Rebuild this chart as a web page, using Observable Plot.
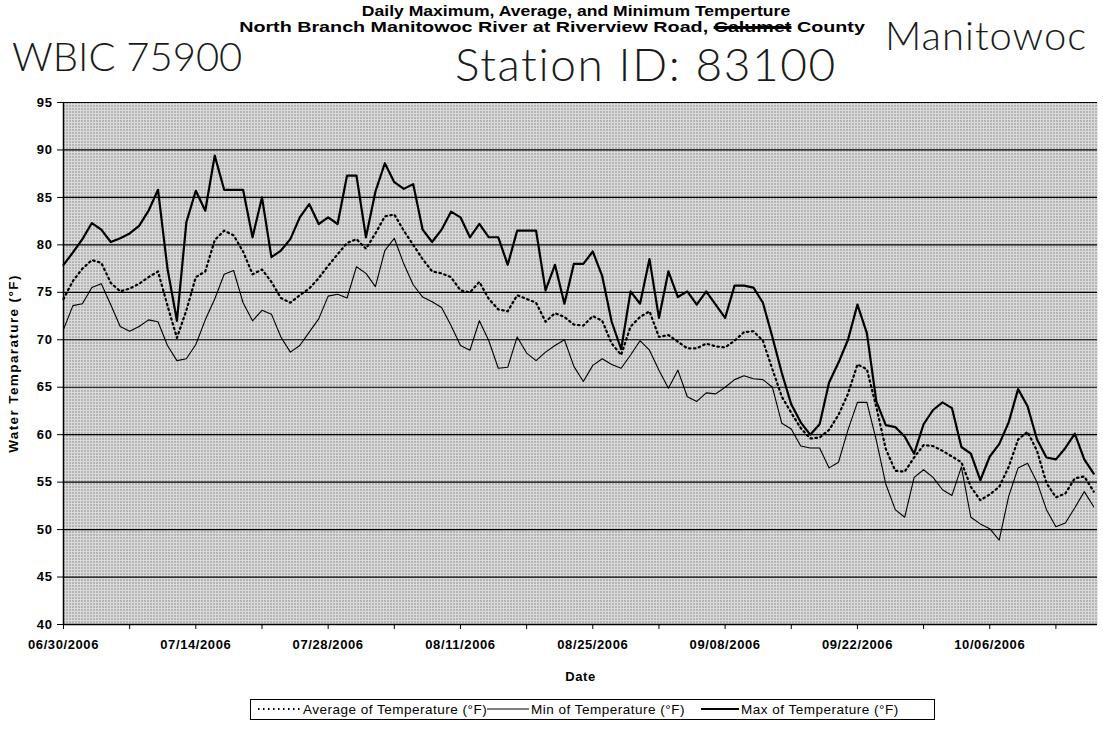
<!DOCTYPE html>
<html><head><meta charset="utf-8">
<script src="https://cdn.jsdelivr.net/npm/d3@7"></script>
<script src="https://cdn.jsdelivr.net/npm/@observablehq/plot@0.6"></script>
<style>
body{margin:0;background:#fff;width:1103px;height:756px;position:relative;overflow:hidden;font-family:"Liberation Sans",Arial,sans-serif;}
#chart{position:absolute;left:0;top:0;}
.t{position:absolute;white-space:nowrap;line-height:1;}
.title{font-weight:bold;font-size:14.5px;color:#000;transform-origin:50% 50%;}
.hand{font-family:Lato,"Open Sans",sans-serif;font-weight:300;color:#1a1a1a;}
#legend{position:absolute;left:250px;top:699px;width:685px;height:21px;border:1px solid #000;box-sizing:border-box;font-size:13.5px;letter-spacing:0.5px;}
#legend .it{position:absolute;top:3px;line-height:1;white-space:nowrap;}
#legend svg{position:absolute;top:4px;}
</style></head><body>
<div id="chart"></div>
<div class="t title" style="left:576px;top:4px;transform:translateX(-50%) scaleX(1.21);">Daily Maximum, Average, and Minimum Temperture</div>
<div class="t title" style="left:552px;top:20px;transform:translateX(-50%) scaleX(1.36);">North Branch Manitowoc River at Riverview Road, <s style="text-decoration-thickness:3px">Calumet</s> County</div>
<div class="t hand" style="left:885px;top:15px;font-size:40px;letter-spacing:1px;">Manitowoc</div>
<div class="t hand" style="left:12px;top:36px;font-size:40px;letter-spacing:0px;">WBIC 75900</div>
<div class="t hand" style="left:455px;top:41px;font-size:46px;letter-spacing:1.6px;">Station ID: 83100</div>
<div id="legend">
<svg width="46" height="10" style="left:6px"><line x1="1" y1="5" x2="45" y2="5" stroke="#000" stroke-width="2" stroke-dasharray="1.5,3.5"/></svg><span class="it" style="left:52px">Average of Temperature (°F)</span>
<svg width="44" height="10" style="left:235px"><line x1="1" y1="5" x2="43" y2="5" stroke="#000" stroke-width="1"/></svg><span class="it" style="left:280px">Min of Temperature (°F)</span>
<svg width="40" height="10" style="left:449px"><line x1="1" y1="5" x2="39" y2="5" stroke="#000" stroke-width="2.2"/></svg><span class="it" style="left:490px">Max of Temperature (°F)</span>
</div>
<script>
const startDate = "2006-06-30";
const maxTemp = [
 77.9, 79.2, 80.6, 82.3, 81.6, 80.3, 80.7, 81.2, 82.0, 83.6,
 85.8, 77.5, 72.0, 82.4, 85.7, 83.6, 89.4, 85.8, 85.8, 85.8,
 80.8, 85.0, 78.7, 79.4, 80.6, 82.9, 84.3, 82.2, 82.9, 82.2,
 87.3, 87.3, 80.8, 85.6, 88.6, 86.6, 85.9, 86.4, 81.6, 80.3,
 81.6, 83.5, 82.9, 80.8, 82.2, 80.8, 80.8, 77.9, 81.5, 81.5,
 81.5, 75.2, 77.9, 73.8, 78.0, 78.0, 79.3, 76.7, 71.9, 69.0,
 75.1, 73.8, 78.5, 72.3, 77.2, 74.5, 75.1, 73.7, 75.1, 73.7,
 72.3, 75.7, 75.7, 75.5, 73.9, 70.3, 66.5, 63.2, 61.3, 60.0,
 61.1, 65.5, 67.6, 70.0, 73.7, 70.7, 63.5, 61.0, 60.8, 59.8,
 58.0, 61.1, 62.6, 63.4, 62.8, 58.7, 58.0, 55.2, 57.7, 59.0,
 61.3, 64.8, 63.0, 59.5, 57.6, 57.4, 58.6, 60.1, 57.4, 55.9];
const avgTemp = [
 74.3, 76.2, 77.5, 78.4, 78.1, 76.0, 75.1, 75.4, 75.9, 76.6,
 77.2, 73.6, 70.2, 73.1, 76.6, 77.2, 80.5, 81.5, 81.0, 79.3,
 76.9, 77.4, 76.1, 74.4, 73.9, 74.7, 75.4, 76.5, 77.8, 79.0,
 80.2, 80.6, 79.6, 81.2, 83.0, 83.2, 81.5, 80.0, 78.5, 77.2,
 77.0, 76.6, 75.2, 75.0, 76.1, 74.3, 73.2, 73.0, 74.7, 74.3,
 73.9, 71.9, 72.8, 72.4, 71.6, 71.5, 72.5, 72.0, 69.6, 68.4,
 71.4, 72.4, 73.0, 70.3, 70.5, 69.8, 69.1, 69.1, 69.6, 69.3,
 69.2, 69.9, 70.8, 70.9, 69.9, 66.9, 64.0, 62.3, 60.7, 59.6,
 59.7, 60.5, 62.1, 64.3, 67.4, 66.9, 62.9, 58.5, 56.2, 56.1,
 57.6, 58.9, 58.8, 58.3, 57.7, 57.1, 54.5, 53.1, 53.7, 54.5,
 56.6, 59.5, 60.3, 58.3, 54.9, 53.4, 53.8, 55.4, 55.6, 54.0];
const minTemp = [
 71.1, 73.6, 73.8, 75.5, 75.9, 73.7, 71.4, 70.9, 71.4, 72.1,
 71.9, 69.4, 67.8, 68.0, 69.5, 72.1, 74.3, 76.9, 77.3, 73.9,
 72.0, 73.1, 72.7, 70.3, 68.7, 69.4, 70.8, 72.2, 74.6, 74.8,
 74.4, 77.7, 77.0, 75.6, 79.4, 80.7, 78.0, 75.8, 74.5, 74.0,
 73.4, 71.5, 69.4, 68.9, 72.0, 69.9, 67.0, 67.1, 70.3, 68.6,
 67.8, 68.7, 69.4, 70.0, 67.2, 65.6, 67.3, 68.0, 67.4, 67.0,
 68.4, 69.9, 68.9, 66.8, 64.9, 66.8, 64.0, 63.5, 64.4, 64.3,
 65.0, 65.8, 66.2, 65.9, 65.8, 65.0, 61.2, 60.6, 58.8, 58.6,
 58.6, 56.5, 57.1, 60.5, 63.4, 63.4, 59.4, 54.8, 52.1, 51.3,
 55.5, 56.3, 55.5, 54.2, 53.6, 56.6, 51.3, 50.6, 50.1, 48.9,
 53.5, 56.5, 57.0, 55.0, 52.1, 50.3, 50.7, 52.3, 54.0, 52.4];
const tickLabels = ["06/30/2006","07/14/2006","07/28/2006","08/11/2006","08/25/2006","09/08/2006","09/22/2006","10/06/2006"];
const minorTickLabels = ["07/07/2006","07/21/2006","08/04/2006","08/18/2006","09/01/2006","09/15/2006","09/29/2006","10/13/2006"];
const yTicks = [40,45,50,55,60,65,70,75,80,85,90,95];

const parseTick = d3.utcParse("%m/%d/%Y");
const t0 = d3.utcParse("%Y-%m-%d")(startDate);
const rows = maxTemp.map((v, i) => ({date: d3.utcDay.offset(t0, i), max: v, avg: avgTemp[i], min: minTemp[i]}));
const xDomain = [t0, new Date(t0.getTime() + 109.4 * 864e5)];
const majorTicks = tickLabels.map(parseTick);
const minorTicks = minorTickLabels.map(parseTick);

const chart = Plot.plot({
  width: 1103, height: 756,
  marginLeft: 63, marginRight: 6, marginTop: 102, marginBottom: 132,
  style: {fontFamily: "'Liberation Sans', Arial, sans-serif", fontSize: "13px", fontWeight: "bold", background: "transparent", color: "#000", letterSpacing: "0.6px"},
  x: {type: "utc", domain: xDomain},
  y: {domain: [40, 95]},
  marks: [
    Plot.frame({fill: "url(#halftone)", stroke: null}),
    Plot.gridY(yTicks, {stroke: "#000", strokeOpacity: 1, strokeWidth: 1.2}),
    Plot.ruleY([40], {stroke: "#000", strokeWidth: 1.5}),
    Plot.ruleX([xDomain[0]], {stroke: "#000", strokeWidth: 1.5}),
    Plot.lineY(rows, {x: "date", y: "min", stroke: "#000", strokeWidth: 1.1}),
    Plot.lineY(rows, {x: "date", y: "avg", stroke: "#000", strokeWidth: 2.2, strokeDasharray: "1.5,3.5"}),
    Plot.lineY(rows, {x: "date", y: "max", stroke: "#000", strokeWidth: 2.2}),
    Plot.axisY(yTicks, {tickSize: 6, tickPadding: 5, label: "Water Temparature (°F)", labelAnchor: "center", labelArrow: "none", labelOffset: 55}),
    Plot.axisX(majorTicks, {tickSize: 5, tickPadding: 10, tickFormat: d3.utcFormat("%m/%d/%Y"), label: "Date", labelAnchor: "center", labelArrow: "none", labelOffset: 56}),
    Plot.axisX(minorTicks, {tickSize: 5, tickFormat: () => "", label: null})
  ]
});
const svg = d3.select(chart);
const defs = svg.insert("defs", ":first-child");
const pat = defs.append("pattern").attr("id", "halftone").attr("width", 3).attr("height", 3).attr("patternUnits", "userSpaceOnUse");
pat.append("rect").attr("width", 3).attr("height", 3).attr("fill", "#dadada");
pat.append("rect").attr("width", 1).attr("height", 1).attr("fill", "#444");
svg.selectAll("[aria-label='y-axis label'] text").style("letter-spacing", "1.4px").style("font-size", "13.5px");
document.getElementById("chart").appendChild(chart);
</script>
</body></html>
